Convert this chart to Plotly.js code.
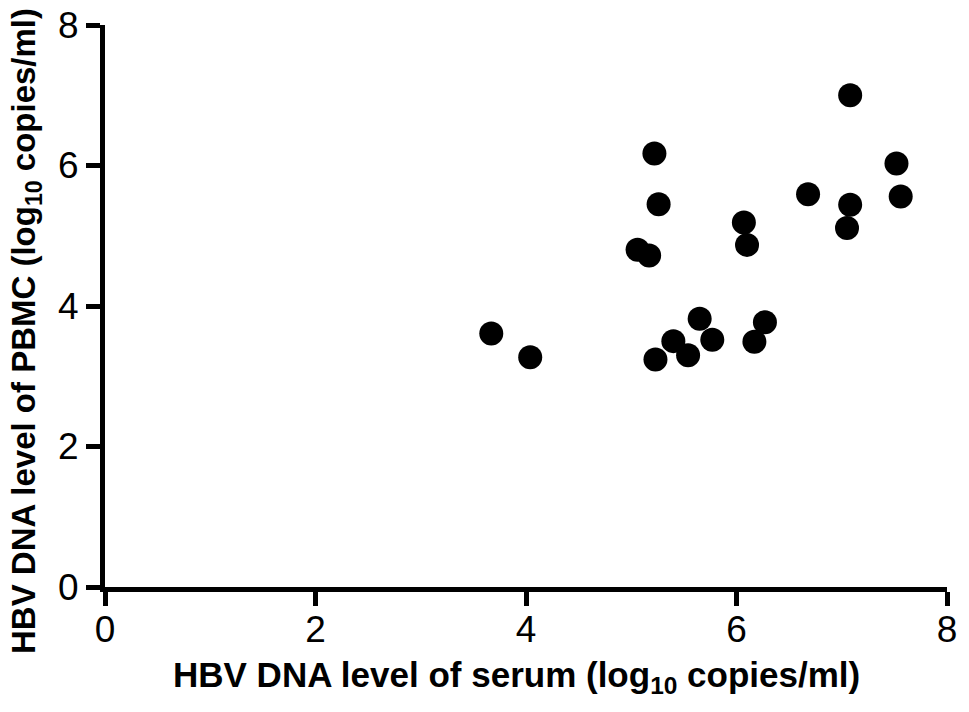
<!DOCTYPE html>
<html>
<head>
<meta charset="utf-8">
<script src="https://cdn.plot.ly/plotly-3.0.1.min.js"></script>
<style>html,body{margin:0;padding:0;background:#fff;}#chart{width:969px;height:712px;}</style>
</head>
<body>
<div id="chart"></div>
<script>
const serumLog = [3.67, 4.04, 5.22, 5.26, 5.06, 5.17, 5.23, 5.40, 5.54, 5.65, 5.77, 6.07, 6.10, 6.17, 6.27, 6.68, 7.08, 7.08, 7.05, 7.52, 7.56];
const pbmcLog  = [3.61, 3.27, 6.17, 5.45, 4.80, 4.72, 3.24, 3.50, 3.30, 3.82, 3.52, 5.19, 4.87, 3.49, 3.77, 5.59, 7.00, 5.44, 5.11, 6.03, 5.56];
const tickVals = [0, 2, 4, 6, 8];
const tickText = ['0', '2', '4', '6', '8'];
const xTitle = '<b>HBV DNA level of serum (log<sub>10</sub> copies/ml)</b>';
const yTitle = '<b>HBV DNA level of PBMC (log<sub>10</sub> copies/ml)</b>';

const trace = {
  x: serumLog, y: pbmcLog, type: 'scatter', mode: 'markers',
  marker: {color: '#000', size: 24, symbol: 'circle', line: {width: 0}},
  hoverinfo: 'x+y'
};
const tickFont = {family: '"Liberation Sans", Arial, sans-serif', size: 37, color: '#000'};
const titleFont = {family: '"Liberation Sans", Arial, sans-serif', size: 33, color: '#000', weight: 'bold'};
const layout = {
  width: 969, height: 712,
  margin: {l: 105, r: 22, t: 25, b: 125},
  paper_bgcolor: '#fff', plot_bgcolor: '#fff',
  showlegend: false,
  xaxis: {
    range: [0, 8], tickvals: tickVals, ticktext: tickText,
    showgrid: false, zeroline: false, showline: true, linecolor: '#000', linewidth: 5,
    ticks: 'outside', ticklen: 14, tickwidth: 5, tickcolor: '#000',
    ticklabelstandoff: -8,
    tickfont: tickFont
  },
  yaxis: {
    range: [0, 8], tickvals: tickVals, ticktext: tickText,
    showgrid: false, zeroline: false, showline: true, linecolor: '#000', linewidth: 5,
    ticks: 'outside', ticklen: 14, tickwidth: 5, tickcolor: '#000',
    tickfont: tickFont
  },
  annotations: [
    {text: xTitle, xref: 'paper', yref: 'paper', x: 0.489, y: -0.16,
     xanchor: 'center', yanchor: 'middle', showarrow: false, borderpad: 0,
     font: Object.assign({}, titleFont, {size: 35})},
    {text: yTitle, xref: 'paper', yref: 'paper', x: -0.0938, y: 0.4555,
     xanchor: 'center', yanchor: 'middle', showarrow: false, textangle: -90, borderpad: 0,
     font: titleFont}
  ]
};
Plotly.newPlot('chart', [trace], layout, {displayModeBar: false, staticPlot: true});
</script>
</body>
</html>
